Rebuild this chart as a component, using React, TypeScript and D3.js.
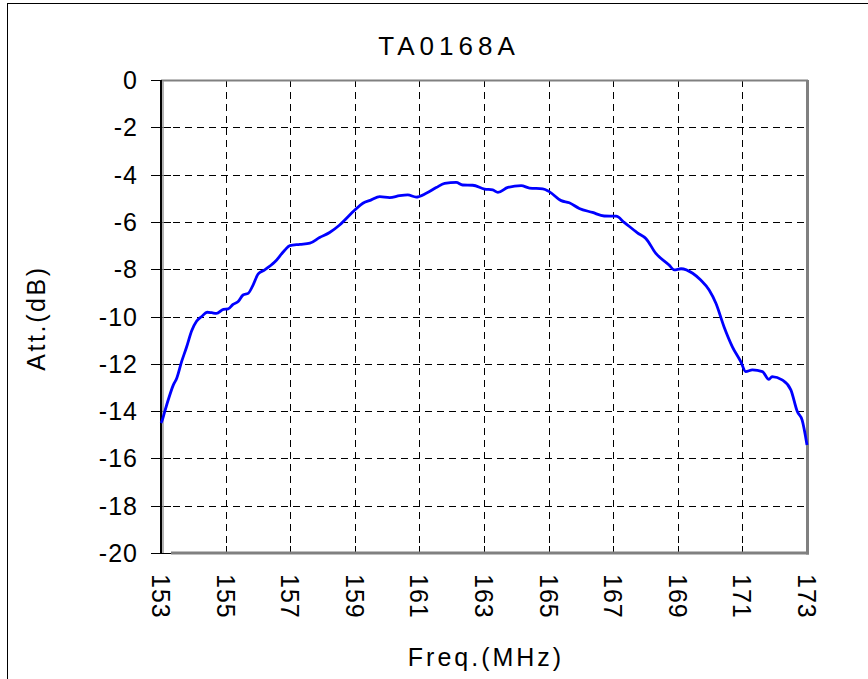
import * as d3 from 'd3'
import React, { useEffect, useRef } from 'react'

const freqs = [153.0, 153.02, 153.12, 153.23, 153.38, 153.49, 153.64, 153.79, 153.95, 154.1, 154.26, 154.43, 154.57, 154.72, 154.93, 155.08, 155.23, 155.39, 155.54, 155.7, 155.85, 156.01, 156.21, 156.52, 156.83, 156.99, 157.3, 157.61, 157.91, 158.22, 158.53, 159.0, 159.25, 159.51, 159.77, 160.08, 160.39, 160.64, 160.9, 161.21, 161.52, 161.78, 162.14, 162.34, 162.65, 163.02, 163.27, 163.43, 163.74, 164.15, 164.41, 164.82, 165.02, 165.39, 165.64, 165.95, 166.36, 166.72, 167.09, 167.34, 167.75, 168.01, 168.32, 168.73, 168.89, 169.1, 169.46, 169.71, 169.97, 170.18, 170.43, 170.69, 170.95, 171.1, 171.31, 171.62, 171.82, 171.92, 172.23, 172.5, 172.7, 172.85, 173.0]
const att = [-14.5, -14.45, -14.0, -13.5, -12.9, -12.6, -11.9, -11.3, -10.6, -10.2, -10.0, -9.82, -9.84, -9.87, -9.7, -9.68, -9.49, -9.37, -9.09, -9.02, -8.67, -8.2, -8.03, -7.7, -7.2, -7.0, -6.95, -6.9, -6.66, -6.45, -6.13, -5.5, -5.21, -5.07, -4.93, -4.97, -4.89, -4.86, -4.95, -4.79, -4.55, -4.37, -4.33, -4.44, -4.45, -4.61, -4.65, -4.75, -4.54, -4.47, -4.57, -4.6, -4.72, -5.1, -5.19, -5.43, -5.6, -5.75, -5.76, -6.02, -6.46, -6.7, -7.33, -7.82, -8.03, -7.98, -8.17, -8.46, -8.88, -9.44, -10.43, -11.28, -11.91, -12.33, -12.26, -12.33, -12.66, -12.54, -12.68, -13.1, -14.02, -14.38, -15.43]
const xTicks = [153, 155, 157, 159, 161, 163, 165, 167, 169, 171, 173]
const yTicks = [0, -2, -4, -6, -8, -10, -12, -14, -16, -18, -20]
const title = 'TA0168A'
const xTitle = 'Freq.(MHz)'
const yTitle = 'Att.(dB)'

const W = 868
const H = 679
const left = 161
const right = 807
const top = 80
const bottom = 553
const font = '"Liberation Sans", Arial, sans-serif'

export default function App() {
    const svgRef = useRef<SVGSVGElement>(null)

    useEffect(() => {
        const svg = d3.select(svgRef.current)
        svg.selectAll('*').remove()

        const x = d3.scaleLinear().domain([153, 173]).range([left, right])
        const y = d3.scaleLinear().domain([0, -20]).range([top, bottom])

        // outer frame
        svg.append('line').attr('x1', 7.5).attr('x2', 7.5).attr('y1', 3).attr('y2', H)
            .attr('stroke', '#000').attr('stroke-width', 1)
        svg.append('line').attr('x1', 7).attr('x2', W).attr('y1', 3.5).attr('y2', 3.5)
            .attr('stroke', '#000').attr('stroke-width', 1)

        // grid
        const grid = svg.append('g')
        grid.selectAll('line.v')
            .data(xTicks.slice(1, -1))
            .join('line')
            .attr('class', 'v')
            .attr('x1', d => Math.round(x(d)) + 0.5)
            .attr('x2', d => Math.round(x(d)) + 0.5)
            .attr('y1', top)
            .attr('y2', bottom)
            .attr('stroke', '#000')
            .attr('stroke-dasharray', '7,5')
        grid.selectAll('line.h')
            .data(yTicks.slice(1, -1))
            .join('line')
            .attr('class', 'h')
            .attr('x1', left)
            .attr('x2', right)
            .attr('y1', d => Math.round(y(d)) + 0.5)
            .attr('y2', d => Math.round(y(d)) + 0.5)
            .attr('stroke', '#000')
            .attr('stroke-dasharray', '7,5')

        // y ticks (crossing the axis)
        svg.append('g').selectAll('line')
            .data(yTicks)
            .join('line')
            .attr('x1', left - 10)
            .attr('x2', left + 10)
            .attr('y1', d => Math.round(y(d)) + 0.5)
            .attr('y2', d => Math.round(y(d)) + 0.5)
            .attr('stroke', '#000')

        // x ticks (inside)
        svg.append('g').selectAll('line')
            .data(xTicks)
            .join('line')
            .attr('x1', d => Math.round(x(d)) + 0.5)
            .attr('x2', d => Math.round(x(d)) + 0.5)
            .attr('y1', bottom)
            .attr('y2', bottom - 7)
            .attr('stroke', '#000')

        // plot borders
        svg.append('line').attr('x1', left).attr('x2', right + 1).attr('y1', top + 0.5).attr('y2', top + 0.5)
            .attr('stroke', '#808080').attr('stroke-width', 2)
        svg.append('line').attr('x1', left + 10).attr('x2', right + 2).attr('y1', bottom).attr('y2', bottom)
            .attr('stroke', '#808080').attr('stroke-width', 3)
        svg.append('line').attr('x1', right + 0.5).attr('x2', right + 0.5).attr('y1', top).attr('y2', bottom + 1.5)
            .attr('stroke', '#808080').attr('stroke-width', 3)
        svg.append('line').attr('x1', left + 2).attr('x2', left + 2).attr('y1', top + 1).attr('y2', bottom)
            .attr('stroke', '#9a9a9a').attr('stroke-width', 1.5)
        svg.append('line').attr('x1', left).attr('x2', left).attr('y1', top).attr('y2', bottom + 1)
            .attr('stroke', '#000').attr('stroke-width', 2)

        // curve
        const pts: [number, number][] = freqs.map((f, i) => [f, att[i]])
        const line = d3.line<[number, number]>()
            .x(d => x(d[0]))
            .y(d => y(d[1]))
            .curve(d3.curveMonotoneX)
        svg.append('path')
            .datum(pts)
            .attr('d', line)
            .attr('fill', 'none')
            .attr('stroke', '#0000ff')
            .attr('stroke-width', 2.8)
            .attr('stroke-linejoin', 'round')

        // y tick labels
        svg.append('g').selectAll('text')
            .data(yTicks)
            .join('text')
            .attr('x', 138)
            .attr('y', d => y(d))
            .attr('dy', '0.36em')
            .attr('text-anchor', 'end')
            .attr('font-family', font)
            .attr('font-size', 25)
            .attr('letter-spacing', 1)
            .text(d => d)

        // x tick labels, rotated
        svg.append('g').selectAll('text')
            .data(xTicks)
            .join('text')
            .attr('transform', d => `translate(${x(d)} 574) rotate(90)`)
            .attr('dy', '0.36em')
            .attr('text-anchor', 'start')
            .attr('font-family', font)
            .attr('font-size', 25)
            .attr('letter-spacing', 1)
            .text(d => d)

        // titles
        svg.append('text')
            .attr('x', 449)
            .attr('y', 55)
            .attr('text-anchor', 'middle')
            .attr('font-family', font)
            .attr('font-size', 26)
            .attr('letter-spacing', 5)
            .text(title)
        svg.append('text')
            .attr('x', 486)
            .attr('y', 666)
            .attr('text-anchor', 'middle')
            .attr('font-family', font)
            .attr('font-size', 25)
            .attr('letter-spacing', 3)
            .text(xTitle)
        svg.append('text')
            .attr('transform', 'translate(45 318) rotate(-90)')
            .attr('text-anchor', 'middle')
            .attr('font-family', font)
            .attr('font-size', 25)
            .attr('letter-spacing', 2.6)
            .text(yTitle)
    }, [])

    return (
        <svg ref={svgRef} width={W} height={H} viewBox={`0 0 ${W} ${H}`}
            style={{ position: 'absolute', left: 0, top: 0, background: '#fff' }} />
    )
}
